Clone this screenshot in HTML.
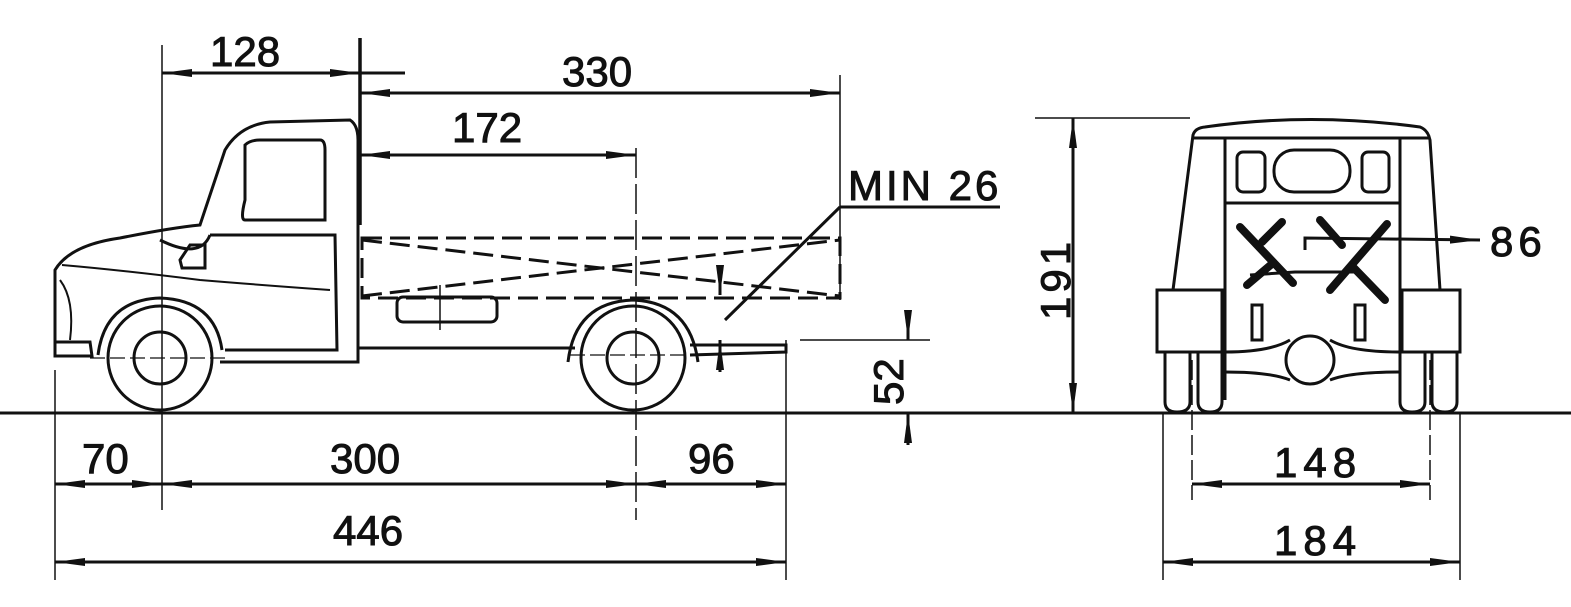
<!DOCTYPE html>
<html><head><style>
html,body{margin:0;padding:0;background:#fff;}
svg{display:block;}
text{font-family:"Liberation Sans",sans-serif;font-size:42px;fill:#111;stroke:#111;stroke-width:1;}
</style></head><body>
<svg width="1571" height="607" viewBox="0 0 1571 607" xmlns="http://www.w3.org/2000/svg">
<defs>
<marker id="a" viewBox="0 0 30 10" refX="30" refY="5" markerWidth="30" markerHeight="10" markerUnits="userSpaceOnUse" orient="auto-start-reverse"><path d="M0,1 L30,5 L0,9 Z" fill="#111"/></marker>
</defs>
<g stroke="#111" fill="none" stroke-width="3">
<line x1="0" y1="413" x2="1571" y2="413" stroke-width="3"/>
<line x1="162" y1="45" x2="162" y2="510" stroke-width="1.5"/>
<line x1="360" y1="38" x2="360" y2="225" stroke-width="3.5"/>
<line x1="840" y1="75" x2="840" y2="300" stroke-width="1.5"/>
<line x1="636" y1="148" x2="636" y2="520" stroke-width="1.5" stroke-dasharray="30,6"/>
<line x1="55" y1="370" x2="55" y2="580" stroke-width="1.5"/>
<line x1="786" y1="340" x2="786" y2="580" stroke-width="1.5"/>
<line x1="162" y1="73" x2="360" y2="73" marker-start="url(#a)" marker-end="url(#a)"/>
<line x1="360" y1="73" x2="405" y2="73"/>
<line x1="360" y1="93" x2="840" y2="93" marker-start="url(#a)" marker-end="url(#a)"/>
<line x1="360" y1="155" x2="636" y2="155" marker-start="url(#a)" marker-end="url(#a)"/>
<line x1="55" y1="484" x2="162" y2="484" marker-start="url(#a)" marker-end="url(#a)"/>
<line x1="162" y1="484" x2="636" y2="484" marker-start="url(#a)" marker-end="url(#a)"/>
<line x1="636" y1="484" x2="786" y2="484" marker-start="url(#a)" marker-end="url(#a)"/>
<line x1="55" y1="562" x2="786" y2="562" marker-start="url(#a)" marker-end="url(#a)"/>
<line x1="800" y1="340" x2="930" y2="340" stroke-width="1.5"/>
<line x1="908" y1="310" x2="908" y2="340" marker-end="url(#a)"/>
<line x1="908" y1="445" x2="908" y2="413" marker-end="url(#a)"/>
<line x1="840" y1="207" x2="1000" y2="207"/>
<line x1="840" y1="207" x2="725" y2="320"/>
<line x1="720" y1="265" x2="720" y2="295" marker-end="url(#a)"/>
<line x1="720" y1="372" x2="720" y2="340" marker-end="url(#a)"/>
<path d="M55,355 L55,270 Q70,245 120,238 Q170,228 200,225 L225,150 Q240,125 270,122 L350,120 Q358,125 358,140 L358,362 L220,362"/>
<path d="M245,145 Q250,140 260,140 L320,140 Q325,140 325,150 L325,220 L245,220 Q240,220 245,200 Z"/>
<path d="M210,235 L335,235 L337,350 L225,350"/>
<path d="M160,240 Q200,260 210,235"/>
<path d="M180,260 L190,245 L205,245 L205,268 L182,268 Z"/>
<path d="M62,265 Q120,270 200,280 Q260,285 330,290" stroke-width="2"/>
<path d="M55,342 L90,342 L92,356 L55,356 Z"/>
<path d="M60,280 Q75,300 70,340" stroke-width="2"/>
<path d="M362,238 L840,238 L840,298 L362,298 Z" stroke-dasharray="20,8"/>
<line x1="362" y1="240" x2="840" y2="296" stroke-dasharray="20,8"/>
<line x1="362" y1="296" x2="840" y2="240" stroke-dasharray="20,8"/>
<rect x="397" y="297" width="100" height="25" rx="6"/>
<line x1="440" y1="285" x2="440" y2="330" stroke-width="1.5"/>
<path d="M358,348 L575,348 M690,345 L786,345 L786,352 L690,355"/>
<circle cx="160" cy="358" r="52"/>
<circle cx="160" cy="358" r="26"/>
<path d="M98,355 Q105,300 160,298 Q215,300 222,350"/>
<circle cx="633" cy="358" r="52"/>
<circle cx="633" cy="358" r="26"/>
<path d="M568,362 Q575,302 633,300 Q690,302 698,362"/>
<line x1="90" y1="358" x2="230" y2="358" stroke-width="1.2" stroke-dasharray="15,5"/>
<line x1="570" y1="355" x2="700" y2="355" stroke-width="1.2" stroke-dasharray="15,5"/>
<line x1="1035" y1="118" x2="1190" y2="118" stroke-width="1.5"/>
<line x1="1073" y1="118" x2="1073" y2="413" marker-start="url(#a)" marker-end="url(#a)"/>
<path d="M1173,290 L1193,135 Q1195,128 1205,127 Q1310,112 1420,127 Q1428,130 1430,140 L1440,290"/>
<path d="M1225,138 L1225,400 M1400,138 L1400,400 M1193,138 L1430,138 M1225,203 L1400,203"/>
<rect x="1237" y="152" width="28" height="40" rx="6"/>
<rect x="1274" y="150" width="76" height="42" rx="20"/>
<rect x="1362" y="152" width="27" height="40" rx="6"/>
<rect x="1157" y="290" width="65" height="62"/>
<rect x="1402" y="290" width="58" height="62"/>
<path d="M1165,352 L1165,402 Q1165,412 1177,412 Q1190,412 1190,402 L1190,352"/>
<path d="M1198,352 L1198,402 Q1198,412 1210,412 Q1222,412 1222,402 L1222,352"/>
<path d="M1400,352 L1400,402 Q1400,412 1412,412 Q1425,412 1425,402 L1425,352"/>
<path d="M1432,352 L1432,402 Q1432,412 1445,412 Q1457,412 1457,402 L1457,352"/>
<circle cx="1310" cy="360" r="24"/>
<path d="M1225,352 Q1270,352 1290,340 M1330,340 Q1350,352 1400,352 M1225,372 Q1270,372 1290,380 M1330,380 Q1350,372 1400,372"/>
<rect x="1252" y="305" width="10" height="35"/>
<rect x="1355" y="305" width="10" height="35"/>
<g stroke-width="8" stroke-linecap="round">
<line x1="1240" y1="227" x2="1293" y2="283"/>
<line x1="1387" y1="224" x2="1330" y2="290"/>
<line x1="1282" y1="222" x2="1262" y2="242"/>
<line x1="1320" y1="220" x2="1342" y2="245"/>
<line x1="1247" y1="285" x2="1273" y2="263"/>
<line x1="1353" y1="267" x2="1385" y2="300"/>
</g>
<path d="M1250,275 L1295,272 L1355,272" stroke-width="3"/>
<path d="M1305,250 L1305,238 L1480,240" marker-end="url(#a)"/>
<line x1="1163" y1="413" x2="1163" y2="580" stroke-width="1.5"/>
<line x1="1460" y1="413" x2="1460" y2="580" stroke-width="1.5"/>
<line x1="1192" y1="360" x2="1192" y2="500" stroke-width="1.5" stroke-dasharray="20,5"/>
<line x1="1430" y1="360" x2="1430" y2="500" stroke-width="1.5" stroke-dasharray="20,5"/>
<line x1="1192" y1="484" x2="1430" y2="484" marker-start="url(#a)" marker-end="url(#a)"/>
<line x1="1163" y1="562" x2="1460" y2="562" marker-start="url(#a)" marker-end="url(#a)"/>
</g>
<text x="210" y="66">128</text>
<text x="562" y="86">330</text>
<text x="452" y="142">172</text>
<text x="848" y="200" letter-spacing="3">MIN 26</text>
<text x="82" y="473">70</text>
<text x="330" y="473">300</text>
<text x="688" y="473">96</text>
<text x="333" y="545">446</text>
<text x="1490" y="256" letter-spacing="5">86</text>
<text x="1274" y="477" letter-spacing="6">148</text>
<text x="1274" y="555" letter-spacing="6">184</text>
<text transform="translate(903,405) rotate(-90)">52</text>
<text transform="translate(1070,320) rotate(-90)" letter-spacing="4">191</text>
</svg>
</body></html>
